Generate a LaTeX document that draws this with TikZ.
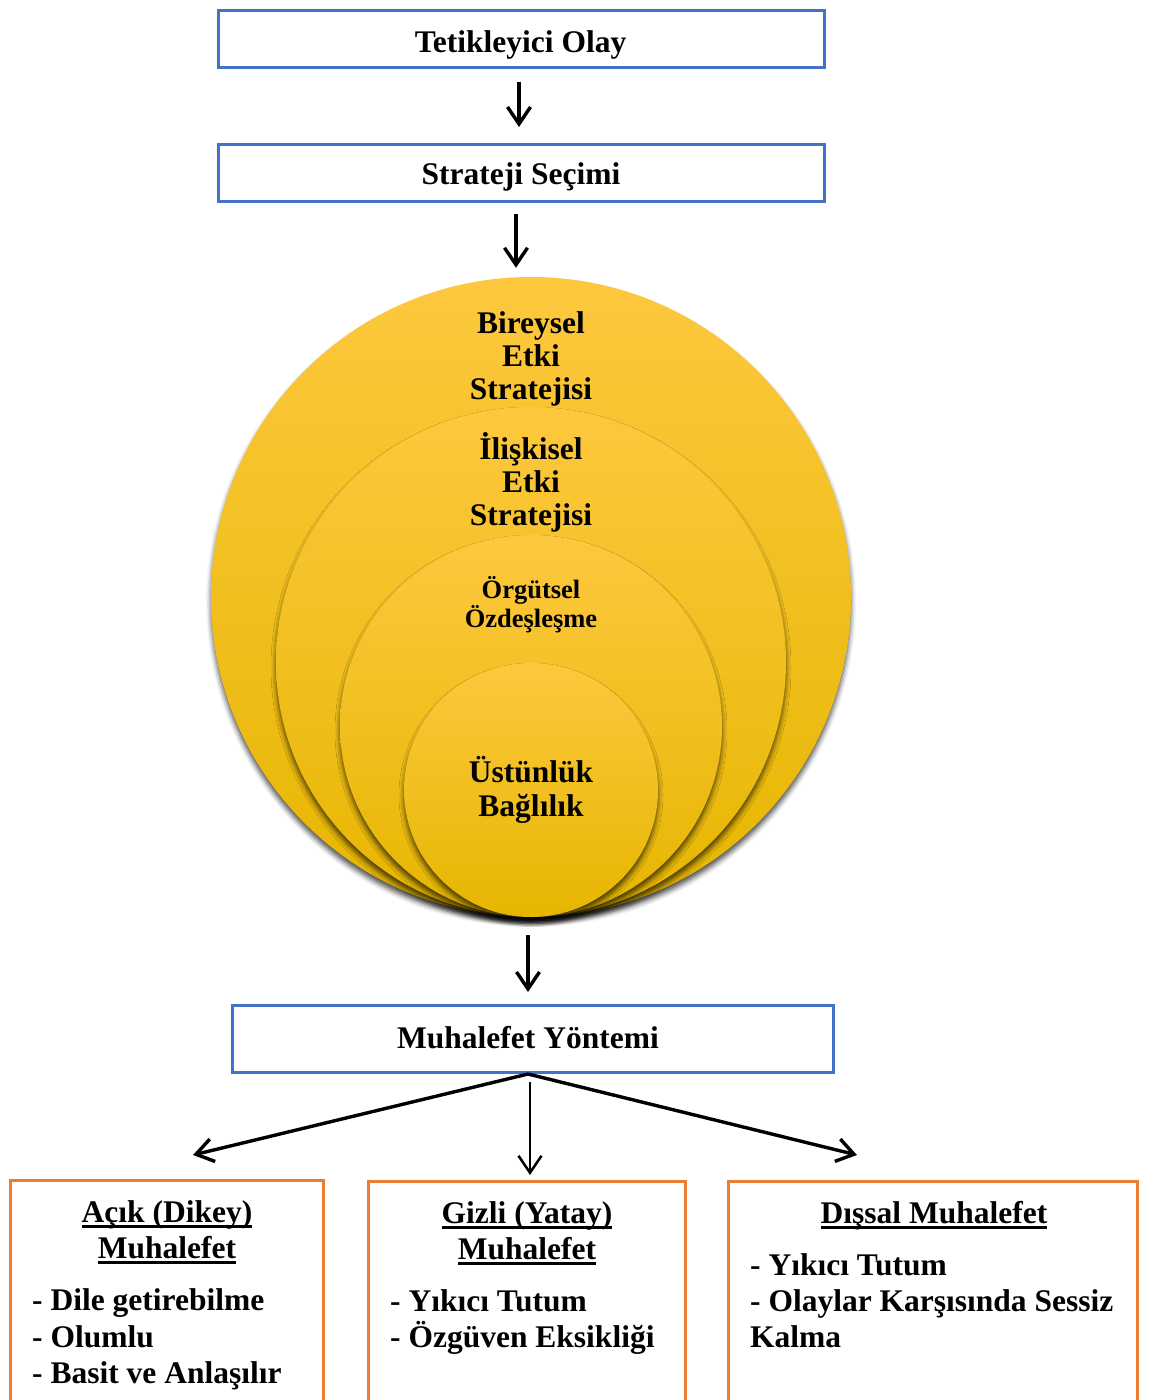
\documentclass[tikz,border=0pt]{standalone}
\usepackage{fontspec}
\setmainfont{Liberation Serif}
\usetikzlibrary{arrows.meta,shadows.blur}
\definecolor{boxblue}{HTML}{4472C4}
\definecolor{boxorange}{HTML}{ED7D31}
\definecolor{goldtop}{HTML}{FDC83E}
\definecolor{goldmid}{HTML}{FFC405}
\definecolor{goldbot}{HTML}{E6B600}
% underline with a fixed depth, close under the baseline
\newcommand\ulword[1]{\setbox0\hbox{#1}\rlap{\rule[-5.5pt]{\wd0}{2.6pt}}\box0}
\begin{document}
\begin{tikzpicture}[x=1pt,y=-1pt,
  bluebox/.style={draw=boxblue, line width=3pt, inner sep=0pt},
  orangebox/.style={draw=boxorange, line width=3pt, inner sep=0pt},
  txt/.style={font=\bfseries\fontsize{31.5}{33}\selectfont, inner sep=0pt},
  arr/.style={line width=3.4pt, -{Straight Barb[length=17pt,width=23pt]}},
  ring/.style={circle, inner sep=0pt, top color=goldtop, middle color=goldmid,
    bottom color=goldbot,
    blur shadow={shadow xshift=0pt, shadow yshift=-5pt,
      shadow blur radius=5pt, shadow opacity=70}}
]
\useasboundingbox (0,0) rectangle (1161,1400);
\clip (0,0) rectangle (1161,1400);

% top boxes
\node[bluebox, minimum width=606pt, minimum height=57pt] (top) at (521,38.5) {};
\node[txt, anchor=base] (toptxt) at (520.5,52) {Tetikleyici Olay};
\node[bluebox, minimum width=606pt, minimum height=57pt] (sec) at (521,173) {};
\node[txt, anchor=base] (sectxt) at (521,184) {Strateji Seçimi};

% nested circles, all touching at the bottom
\node[ring, minimum size=640pt] (c1) at (531,597) {};
\node[ring, minimum size=510pt] (c2) at (531,662) {};
\node[ring, minimum size=382pt] (c3) at (531,726) {};
\node[ring, minimum size=254pt] (c4) at (531,790) {};

% multi-line labels: the base anchor sits on the last line
\node[txt, anchor=base, align=center] (t1) at (531,399)
  {Bireysel\\Etki\\Stratejisi};
\node[txt, anchor=base, align=center] (t2) at (531,525)
  {İlişkisel\\Etki\\Stratejisi};
\node[txt, anchor=base, align=center, font=\bfseries\fontsize{26.5}{27}\selectfont]
  (t3) at (531,627) {Örgütsel\\Özdeşleşme};
\node[txt, anchor=base, align=center, font=\bfseries\fontsize{31.5}{34}\selectfont]
  (t4) at (531,816) {Üstünlük\\Bağlılık};

% method box
\node[bluebox, minimum width=601pt, minimum height=67pt] (muh) at (533,1039) {};
\node[txt, anchor=base] (muhtxt) at (528,1048) {Muhalefet Yöntemi};

% bottom boxes, running off the lower edge
\node[orangebox, minimum width=313pt, minimum height=260pt, anchor=north] (boxL) at (167,1179) {};
\node[orangebox, minimum width=317pt, minimum height=260pt, anchor=north] (boxM) at (527,1180) {};
\node[orangebox, minimum width=409pt, minimum height=260pt, anchor=north] (boxR) at (933,1180) {};

\node[txt, anchor=base] (lt1) at (167,1222) {\ulword{Açık (Dikey)}};
\node[txt, anchor=base] (lt2) at (167,1258) {\ulword{Muhalefet}};
\node[txt, anchor=base west] (li1) at (32,1310) {- Dile getirebilme};
\node[txt, anchor=base west] (li2) at (32,1347) {- Olumlu};
\node[txt, anchor=base west] (li3) at (32,1383) {- Basit ve Anlaşılır};

\node[txt, anchor=base] (mt1) at (527,1223) {\ulword{Gizli (Yatay)}};
\node[txt, anchor=base] (mt2) at (527,1259) {\ulword{Muhalefet}};
\node[txt, anchor=base west] (mi1) at (390,1311) {- Yıkıcı Tutum};
\node[txt, anchor=base west] (mi2) at (390,1347) {- Özgüven Eksikliği};

\node[txt, anchor=base] (rt1) at (934,1223) {\ulword{Dışsal Muhalefet}};
\node[txt, anchor=base west] (ri1) at (750,1275) {- Yıkıcı Tutum};
\node[txt, anchor=base west] (ri2) at (750,1311) {- Olaylar Karşısında Sessiz};
\node[txt, anchor=base west] (ri3) at (750,1347) {Kalma};

% connectors
\draw[arr, shorten <=13pt, shorten >=16pt] ([xshift=-2pt]top.south) -- ([xshift=-2pt]sec.north);
\draw[arr, shorten <=11pt, shorten >=9pt] ([xshift=-5pt]sec.south) -- ([xshift=-15pt]c1.north);
\draw[arr, shorten <=18pt, shorten >=12pt] ([xshift=-3pt]c1.south) -- ([xshift=-5pt]muh.north);

\coordinate (endL) at (193,1155);
\coordinate (endR) at (857,1155);
\coordinate (midS) at (530,1082);
\coordinate (endM) at (530,1175);
\draw[arr] ([xshift=-5pt]muh.south) -- (endL);
\draw[arr] ([xshift=-5pt]muh.south) -- (endR);
\draw[arr, line width=2.5pt] (midS) -- (endM);
\end{tikzpicture}
\end{document}
